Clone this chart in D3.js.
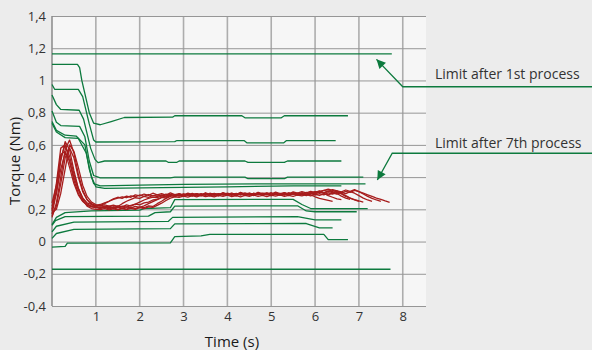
<!DOCTYPE html>
<html>
<head>
<meta charset="utf-8">
<script src="https://cdn.jsdelivr.net/npm/d3@7"></script>
<style>
  body { margin: 0; background: #ececec; }
  svg { display: block; font-family: "Open Sans", sans-serif; }
</style>
</head>
<body>
<svg id="chart" width="592" height="350"></svg>
<script>
// axis ticks
const yTicks = [-0.4, -0.2, 0, 0.2, 0.4, 0.6, 0.8, 1, 1.2, 1.4];
const xTicks = [1, 2, 3, 4, 5, 6, 7, 8];

// green limit curves, [time, torque]
const limitTop = [[0, 1.165], [7.75, 1.165]];
const limitBottom = [[0, -0.172], [7.72, -0.172]];
const green1 = [[0,1.1],[0.58,1.1],[0.63,1.08],[0.68,1.0],[0.85,0.8],[0.95,0.735],[1.1,0.725],[1.35,0.745],[1.65,0.77],[2.75,0.772],[2.8,0.781],[4.33,0.781],[4.4,0.768],[5.23,0.768],[5.3,0.781],[6.75,0.781]];
const green2 = [[0,0.975],[0.06,0.945],[0.6,0.945],[0.7,0.9],[0.85,0.73],[0.95,0.63],[1.0,0.618],[2.8,0.62],[2.85,0.627],[4.38,0.627],[4.45,0.612],[5.28,0.612],[5.35,0.627],[6.47,0.627]];
const green3 = [[0,0.91],[0.1,0.85],[0.2,0.82],[0.62,0.815],[0.72,0.76],[0.88,0.58],[0.98,0.51],[1.05,0.49],[1.2,0.5],[2.6,0.5],[2.65,0.492],[2.85,0.492],[2.9,0.5],[4.4,0.5],[4.47,0.492],[5.3,0.492],[5.37,0.5],[6.6,0.5]];
const green4 = [[0,0.81],[0.1,0.74],[0.2,0.72],[0.63,0.715],[0.75,0.65],[0.85,0.5],[0.95,0.41],[1.1,0.395],[2.7,0.395],[2.8,0.4],[4.4,0.4],[4.47,0.39],[5.3,0.39],[5.37,0.4],[7.1,0.4]];
const green5 = [[0,0.745],[0.1,0.69],[0.3,0.66],[0.55,0.655],[0.75,0.6],[0.85,0.45],[0.95,0.36],[1.1,0.345],[2,0.35],[3,0.355],[5,0.358],[7.15,0.358]];
const green6 = [[0,0.735],[0.1,0.68],[0.3,0.645],[0.6,0.64],[0.78,0.55],[0.9,0.4],[1.0,0.34],[1.2,0.33],[2.5,0.335],[4,0.34],[5.5,0.345],[6.6,0.345]];
const green7 = [[0,0.105],[0.1,0.15],[0.3,0.18],[0.9,0.19],[2.0,0.195],[2.1,0.205],[2.7,0.21],[2.8,0.26],[5.5,0.262],[5.7,0.23],[5.9,0.205],[7.2,0.205]];
const green8 = [[0,0.1],[0.08,0.13],[0.3,0.155],[2.2,0.158],[2.35,0.18],[2.7,0.185],[2.8,0.22],[5.6,0.222],[5.8,0.19],[6.0,0.185],[6.95,0.185]];
const green9 = [[0,0.06],[0.1,0.095],[0.5,0.12],[2.65,0.125],[2.75,0.15],[5.6,0.155],[6.0,0.135],[6.6,0.135]];
const green10 = [[0,0.02],[0.1,0.05],[0.5,0.075],[2.7,0.08],[2.8,0.11],[5.8,0.112],[6.1,0.085],[6.4,0.085]];
const green11 = [[0,-0.035],[0.3,-0.03],[0.35,-0.01],[2.7,-0.008],[2.8,0.03],[3.4,0.035],[3.6,0.045],[6.2,0.045],[6.3,0.012],[6.75,0.012]];

// red measured torque runs, one value every redStep seconds
const redStep = 0.1;
const red1 = [0.17,0.30,0.50,0.62,0.57,0.44,0.33,0.27,0.24,0.23,
  0.22,0.225,0.215,0.22,0.21,0.222,0.215,0.228,0.22,0.232,
  0.228,0.24,0.245,0.258,0.262,0.275,0.27,0.285,0.28,0.292,
  0.285,0.295,0.284,0.293,0.286,0.297,0.285,0.291,0.283,0.296,
  0.287,0.293,0.284,0.298,0.286,0.292,0.285,0.297,0.288,0.294,
  0.284,0.296,0.287,0.293,0.286,0.299,0.288,0.295,0.285,0.297,
  0.289,0.298,0.29,0.302,0.295,0.306,0.3,0.312,0.305,0.318,
  0.31,0.3,0.29,0.28,0.27,0.262,0.252,0.243];
const red2 = [0.2,0.36,0.58,0.6,0.5,0.38,0.3,0.25,0.225,0.215,
  0.21,0.205,0.212,0.203,0.21,0.2,0.208,0.202,0.212,0.205,
  0.215,0.21,0.222,0.218,0.235,0.25,0.268,0.28,0.29,0.284,
  0.295,0.288,0.299,0.29,0.296,0.287,0.3,0.291,0.297,0.289,
  0.301,0.292,0.298,0.29,0.302,0.293,0.299,0.291,0.3,0.294,
  0.303,0.292,0.299,0.29,0.302,0.295,0.3,0.293,0.305,0.298,
  0.31,0.305,0.318,0.312,0.322,0.315,0.3,0.285,0.27,0.258,0.25];
const red3 = [0.16,0.22,0.36,0.52,0.58,0.52,0.4,0.31,0.26,0.235,
  0.225,0.23,0.24,0.25,0.265,0.275,0.268,0.282,0.275,0.29,
  0.283,0.295,0.287,0.3,0.29,0.298,0.288,0.302,0.291,0.297,
  0.289,0.3,0.292,0.298,0.288,0.303,0.293,0.299,0.29,0.304,
  0.294,0.3,0.291,0.305,0.296,0.301,0.293,0.306,0.297,0.302,
  0.294,0.307,0.298,0.303,0.295,0.308,0.3,0.31,0.302,0.312,
  0.305,0.315,0.3,0.285,0.275,0.265,0.26];
const red4 = [0.22,0.3,0.45,0.55,0.5,0.4,0.32,0.26,0.22,0.205,
  0.2,0.198,0.205,0.197,0.203,0.196,0.204,0.198,0.206,0.2,
  0.21,0.205,0.215,0.212,0.225,0.238,0.255,0.27,0.278,0.275,
  0.282,0.276,0.285,0.278,0.287,0.279,0.284,0.277,0.286,0.28,
  0.288,0.279,0.285,0.278,0.287,0.281,0.289,0.28,0.286,0.279,
  0.288,0.282,0.29,0.281,0.287,0.28,0.289,0.283,0.291,0.284,
  0.293,0.286,0.296,0.29,0.3,0.295,0.305,0.298,0.31,0.3,
  0.285,0.27,0.258,0.25];
const red5 = [0.18,0.2,0.3,0.45,0.6,0.56,0.46,0.35,0.28,0.245,
  0.23,0.222,0.228,0.22,0.226,0.218,0.235,0.25,0.262,0.272,
  0.268,0.28,0.274,0.286,0.279,0.29,0.282,0.293,0.284,0.291,
  0.283,0.295,0.286,0.292,0.284,0.296,0.287,0.293,0.285,0.297,
  0.288,0.294,0.286,0.298,0.289,0.295,0.287,0.299,0.29,0.296,
  0.288,0.3,0.291,0.297,0.289,0.301,0.292,0.298,0.29,0.302,
  0.296,0.308,0.302,0.315,0.31,0.298,0.282,0.27,0.262];
const red6 = [0.24,0.35,0.52,0.6,0.53,0.42,0.33,0.27,0.235,0.218,
  0.21,0.215,0.208,0.214,0.206,0.213,0.207,0.215,0.209,0.218,
  0.212,0.222,0.235,0.248,0.26,0.272,0.28,0.288,0.282,0.294,
  0.287,0.298,0.289,0.295,0.286,0.299,0.29,0.296,0.288,0.3,
  0.291,0.297,0.289,0.301,0.292,0.298,0.29,0.302,0.293,0.299,
  0.291,0.303,0.294,0.3,0.292,0.304,0.295,0.301,0.293,0.305,
  0.297,0.307,0.3,0.31,0.304,0.315,0.308,0.32,0.312,0.322,
  0.31,0.295,0.28,0.268,0.258,0.25];
const red7 = [0.19,0.32,0.54,0.56,0.46,0.36,0.29,0.25,0.23,0.222,
  0.218,0.225,0.235,0.25,0.262,0.27,0.278,0.272,0.284,0.277,
  0.289,0.281,0.292,0.284,0.29,0.283,0.295,0.286,0.292,0.284,
  0.296,0.287,0.293,0.285,0.297,0.288,0.294,0.286,0.298,0.289,
  0.295,0.287,0.299,0.29,0.296,0.288,0.3,0.291,0.297,0.289,
  0.301,0.292,0.298,0.29,0.302,0.293,0.299,0.291,0.303,0.29,
  0.278,0.268,0.262,0.256,0.25];
const red8 = [0.15,0.24,0.4,0.57,0.63,0.55,0.42,0.32,0.26,0.23,
  0.215,0.21,0.218,0.208,0.216,0.21,0.22,0.214,0.225,0.232,
  0.245,0.258,0.268,0.276,0.272,0.283,0.278,0.29,0.283,0.294,
  0.286,0.292,0.284,0.297,0.288,0.294,0.286,0.298,0.29,0.295,
  0.287,0.299,0.291,0.296,0.288,0.3,0.292,0.297,0.289,0.301,
  0.293,0.298,0.29,0.302,0.294,0.299,0.291,0.303,0.295,0.3,
  0.306,0.312,0.318,0.325,0.318,0.31,0.295,0.28,0.27,0.26,0.252,0.245];

// callouts: arrow tip and elbow in data units
const notes = [
  { text: "Limit after 1st process", tip: [7.4, 1.131], elbow: [8.0, 0.961] },
  { text: "Limit after 7th process", tip: [7.42, 0.382], elbow: [7.76, 0.548] }
];

const svg = d3.select("#chart");
const W = 592, H = 350;
const margin = { left: 52, top: 16 };
const plotW = 374, plotH = 290;

const x = d3.scaleLinear().domain([0, 8.53]).range([margin.left, margin.left + plotW]);
const y = d3.scaleLinear().domain([-0.4, 1.4]).range([margin.top + plotH, margin.top]);

const fmt = d3.formatLocale({ decimal: ",", thousands: ".", grouping: [3], currency: ["", ""], minus: "-" }).format("~g");

svg.append("rect").attr("width", W).attr("height", H).attr("fill", "#ececec");
svg.append("rect")
  .attr("x", margin.left).attr("y", margin.top)
  .attr("width", plotW).attr("height", plotH)
  .attr("fill", "#f6f6f6");

// vertical grid
svg.append("g").selectAll("line").data(xTicks).join("line")
  .attr("x1", d => x(d)).attr("x2", d => x(d))
  .attr("y1", y(1.4)).attr("y2", y(-0.4))
  .attr("stroke", "#adadad").attr("stroke-width", 1.6);

// horizontal grid + y labels
const yAxis = svg.append("g")
  .attr("transform", `translate(${margin.left},0)`)
  .call(d3.axisLeft(y).tickValues(yTicks).tickFormat(fmt).tickSize(-plotW).tickPadding(6));
yAxis.select(".domain").remove();
yAxis.selectAll(".tick line").attr("stroke", "#969696").attr("stroke-width", 1);
yAxis.selectAll(".tick text").attr("fill", "#333").attr("font-size", 13)
  .attr("font-family", "Open Sans, sans-serif");

// left axis line
svg.append("line")
  .attr("x1", margin.left).attr("x2", margin.left)
  .attr("y1", y(1.4)).attr("y2", y(-0.4))
  .attr("stroke", "#8a8a8a").attr("stroke-width", 1.5);

// x labels
const xAxis = svg.append("g")
  .attr("transform", `translate(0,${y(-0.4)})`)
  .call(d3.axisBottom(x).tickValues(xTicks).tickSize(0).tickPadding(6));
xAxis.select(".domain").remove();
xAxis.selectAll(".tick text").attr("fill", "#333").attr("font-size", 13)
  .attr("font-family", "Open Sans, sans-serif");

const line = d3.line().x(d => x(d[0])).y(d => y(d[1]));

const plot = svg.append("g");

const greens = [limitTop, limitBottom, green1, green2, green3, green4, green5, green6, green7, green8, green9, green10, green11];
plot.append("g").selectAll("path").data(greens).join("path")
  .attr("d", line)
  .attr("fill", "none")
  .attr("stroke", "#0d7a3e")
  .attr("stroke-width", 1.3)
  .attr("stroke-linejoin", "round");

const reds = [red1, red2, red3, red4, red5, red6, red7, red8];
plot.append("g").selectAll("path").data(reds).join("path")
  .attr("d", vals => line(vals.map((v, i) => [i * redStep, v])))
  .attr("fill", "none")
  .attr("stroke", "#a71d1d")
  .attr("stroke-width", 1.3)
  .attr("stroke-linejoin", "round");

// axis titles
svg.append("text")
  .attr("transform", `translate(20,${(y(1.4) + y(-0.4)) / 2}) rotate(-90)`)
  .attr("text-anchor", "middle")
  .attr("font-size", 15).attr("fill", "#1a1a1a")
  .text("Torque (Nm)");
svg.append("text")
  .attr("x", 232).attr("y", 347)
  .attr("text-anchor", "middle")
  .attr("font-size", 15).attr("fill", "#1a1a1a")
  .text("Time (s)");

// callouts
svg.append("defs").append("marker")
  .attr("id", "arrow")
  .attr("viewBox", "0 0 10 10")
  .attr("refX", 10).attr("refY", 5)
  .attr("markerUnits", "userSpaceOnUse")
  .attr("markerWidth", 11).attr("markerHeight", 9)
  .attr("orient", "auto")
  .append("path").attr("d", "M0,0L10,5L0,10Z").attr("fill", "#0d7a3e");

const labelDy = [-8, -5];
notes.forEach((n, i) => {
  const ex = x(n.elbow[0]), ey = y(n.elbow[1]);
  svg.append("path")
    .attr("d", `M${W},${ey}L${ex},${ey}L${x(n.tip[0])},${y(n.tip[1])}`)
    .attr("fill", "none")
    .attr("stroke", "#0d7a3e")
    .attr("stroke-width", 1.3)
    .attr("marker-end", "url(#arrow)");
  svg.append("text")
    .attr("x", 435).attr("y", ey + labelDy[i])
    .attr("font-size", 14).attr("fill", "#333")
    .text(n.text);
});
</script>
</body>
</html>
